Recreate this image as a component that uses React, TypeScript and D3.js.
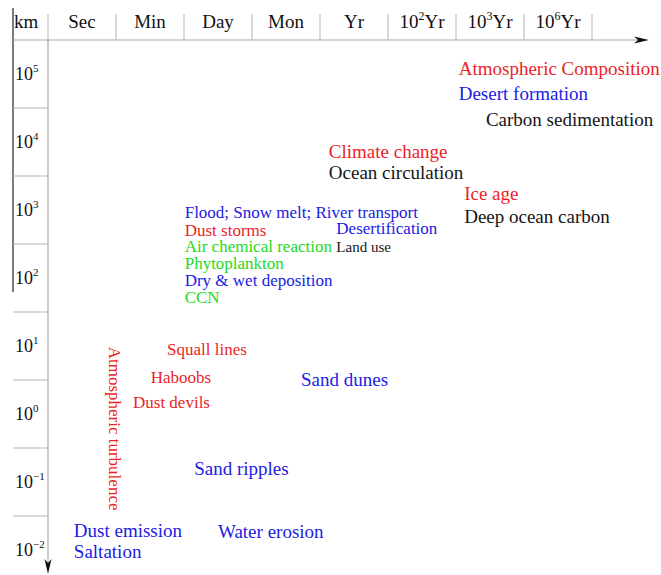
import React from 'react';
import * as d3 from 'd3';

// time columns (header) and length rows (km, powers of ten)
const timeUnits = ['Sec', 'Min', 'Day', 'Mon', 'Yr', 'Yr', 'Yr', 'Yr'];
const timeExponents = ['', '', '', '', '', '2', '3', '6'];
const kmExponents = ['5', '4', '3', '2', '1', '0', '\u22121', '\u22122'];

// phenomena: time index (0 = start of "Sec" column) and log10(km)
const phenomena = [
  'Atmospheric Composition', 'Desert formation', 'Carbon sedimentation',
  'Climate change', 'Ocean circulation', 'Ice age', 'Deep ocean carbon',
  'Flood; Snow melt; River transport', 'Desertification', 'Dust storms',
  'Air chemical reaction', 'Land use', 'Phytoplankton', 'Dry & wet deposition',
  'CCN', 'Squall lines', 'Haboobs', 'Dust devils', 'Sand dunes', 'Sand ripples',
  'Dust emission', 'Saltation', 'Water erosion', 'Atmospheric turbulence',
];
const phenomenaTime = [
  6.04, 6.04, 6.44, 4.13, 4.13, 6.12, 6.12, 2.01, 4.24, 2.01, 2.01, 4.24,
  2.01, 2.01, 2.01, 1.75, 1.51, 1.25, 3.72, 2.15, 0.38, 0.38, 2.5, 0.89,
];
const phenomenaKm = [
  4.99, 4.62, 4.24, 3.76, 3.46, 3.15, 2.81, 2.88, 2.65, 2.62, 2.38, 2.38,
  2.13, 1.88, 1.63, 0.87, 0.46, 0.09, 0.41, -0.9, -1.81, -2.12, -1.82, 0.99,
];
const phenomenaGroup = [
  'atmosphere', 'land', 'ocean', 'atmosphere', 'ocean', 'atmosphere', 'ocean',
  'land', 'land', 'atmosphere', 'biochem', 'human', 'biochem', 'land',
  'biochem', 'atmosphere', 'atmosphere', 'atmosphere', 'land', 'land',
  'land', 'land', 'land', 'atmosphere',
];

const W = 661;
const H = 575;
const FONT = '"Liberation Serif", "Times New Roman", serif';

const smallLabels = new Set([
  'Flood; Snow melt; River transport', 'Desertification', 'Dust storms',
  'Air chemical reaction', 'Phytoplankton', 'Dry & wet deposition', 'CCN',
  'Squall lines', 'Haboobs', 'Dust devils', 'Atmospheric turbulence',
]);
const verticalLabels = new Set(['Atmospheric turbulence']);

const colour = d3.scaleOrdinal<string, string>()
  .domain(['atmosphere', 'land', 'biochem', 'ocean', 'human'])
  .range(['#ea1f27', '#2020e4', '#22dc22', '#151515', '#151515']);

export default function App() {
  const left = 48;
  const top = 40;
  const step = 68;
  const gridLeft = 13;

  const cols = d3.scaleBand<number>()
    .domain(d3.range(timeUnits.length))
    .range([left, left + step * timeUnits.length]);
  const rows = d3.scaleBand<number>()
    .domain(d3.range(kmExponents.length))
    .range([top, top + step * kmExponents.length]);

  const x = d3.scaleLinear().domain([0, timeUnits.length]).range(cols.range());
  const y = d3.scaleLinear().domain([5.5, -2.5]).range(rows.range());

  const arrowRight = 649;
  const arrowDown = 574;

  const fontSize = (name: string) =>
    name === 'Land use' ? 15 : smallLabels.has(name) ? 17 : 19;

  return (
    <svg width={W} height={H} style={{ position: 'absolute', left: 0, top: 0, background: '#fff' }}
      fontFamily={FONT}>
      {/* dark left rule */}
      <line x1={gridLeft} x2={gridLeft} y1={8} y2={292} stroke="#444" strokeWidth={1.4} />

      {/* top time axis */}
      <line x1={gridLeft} x2={arrowRight - 8} y1={top} y2={top} stroke="#a8a8a8" strokeWidth={1.2} />
      <path d={`M${arrowRight},${top} L${arrowRight - 15},${top - 3.5} L${arrowRight - 11},${top} L${arrowRight - 15},${top + 3.5} Z`}
        fill="#111" />
      {d3.range(timeUnits.length + 1).map(i => (
        <line key={'c' + i} x1={x(i)} x2={x(i)} y1={14} y2={top} stroke="#b5b5b5" strokeWidth={1} />
      ))}
      <text x={14} y={28} fontSize={19} fill="#111">km</text>
      {timeUnits.map((u, i) => (
        <text key={'t' + i} x={cols(i)! + cols.bandwidth() / 2} y={28} fontSize={19} fill="#111" textAnchor="middle">
          {timeExponents[i] ? (
            <>
              <tspan>10</tspan>
              <tspan dy={-8} fontSize={12}>{timeExponents[i]}</tspan>
              <tspan dy={8}>{u}</tspan>
            </>
          ) : u}
        </text>
      ))}

      {/* vertical length axis */}
      <line x1={left} x2={left} y1={top} y2={arrowDown - 8} stroke="#a8a8a8" strokeWidth={1.2} />
      <path d={`M${left},${arrowDown} L${left - 3.5},${arrowDown - 15} L${left},${arrowDown - 11} L${left + 3.5},${arrowDown - 15} Z`}
        fill="#111" />
      {d3.range(1, kmExponents.length).map(i => (
        <line key={'r' + i} x1={gridLeft} x2={left} y1={rows(i)!} y2={rows(i)!} stroke="#b5b5b5" strokeWidth={1} />
      ))}
      {kmExponents.map((e, i) => (
        <text key={'k' + i} x={15} y={rows(i)! + rows.bandwidth() / 2 + 6} fontSize={18} fill="#111">
          10<tspan dy={-8} fontSize={11}>{e}</tspan>
        </text>
      ))}

      {/* phenomena */}
      {phenomena.map((name, i) => {
        const px = x(phenomenaTime[i]);
        const py = y(phenomenaKm[i]);
        const vertical = verticalLabels.has(name);
        return (
          <text key={name} x={px} y={py} fontSize={fontSize(name)} fill={colour(phenomenaGroup[i])}
            transform={vertical ? `rotate(90, ${px}, ${py})` : undefined}>
            {name}
          </text>
        );
      })}
    </svg>
  );
}
